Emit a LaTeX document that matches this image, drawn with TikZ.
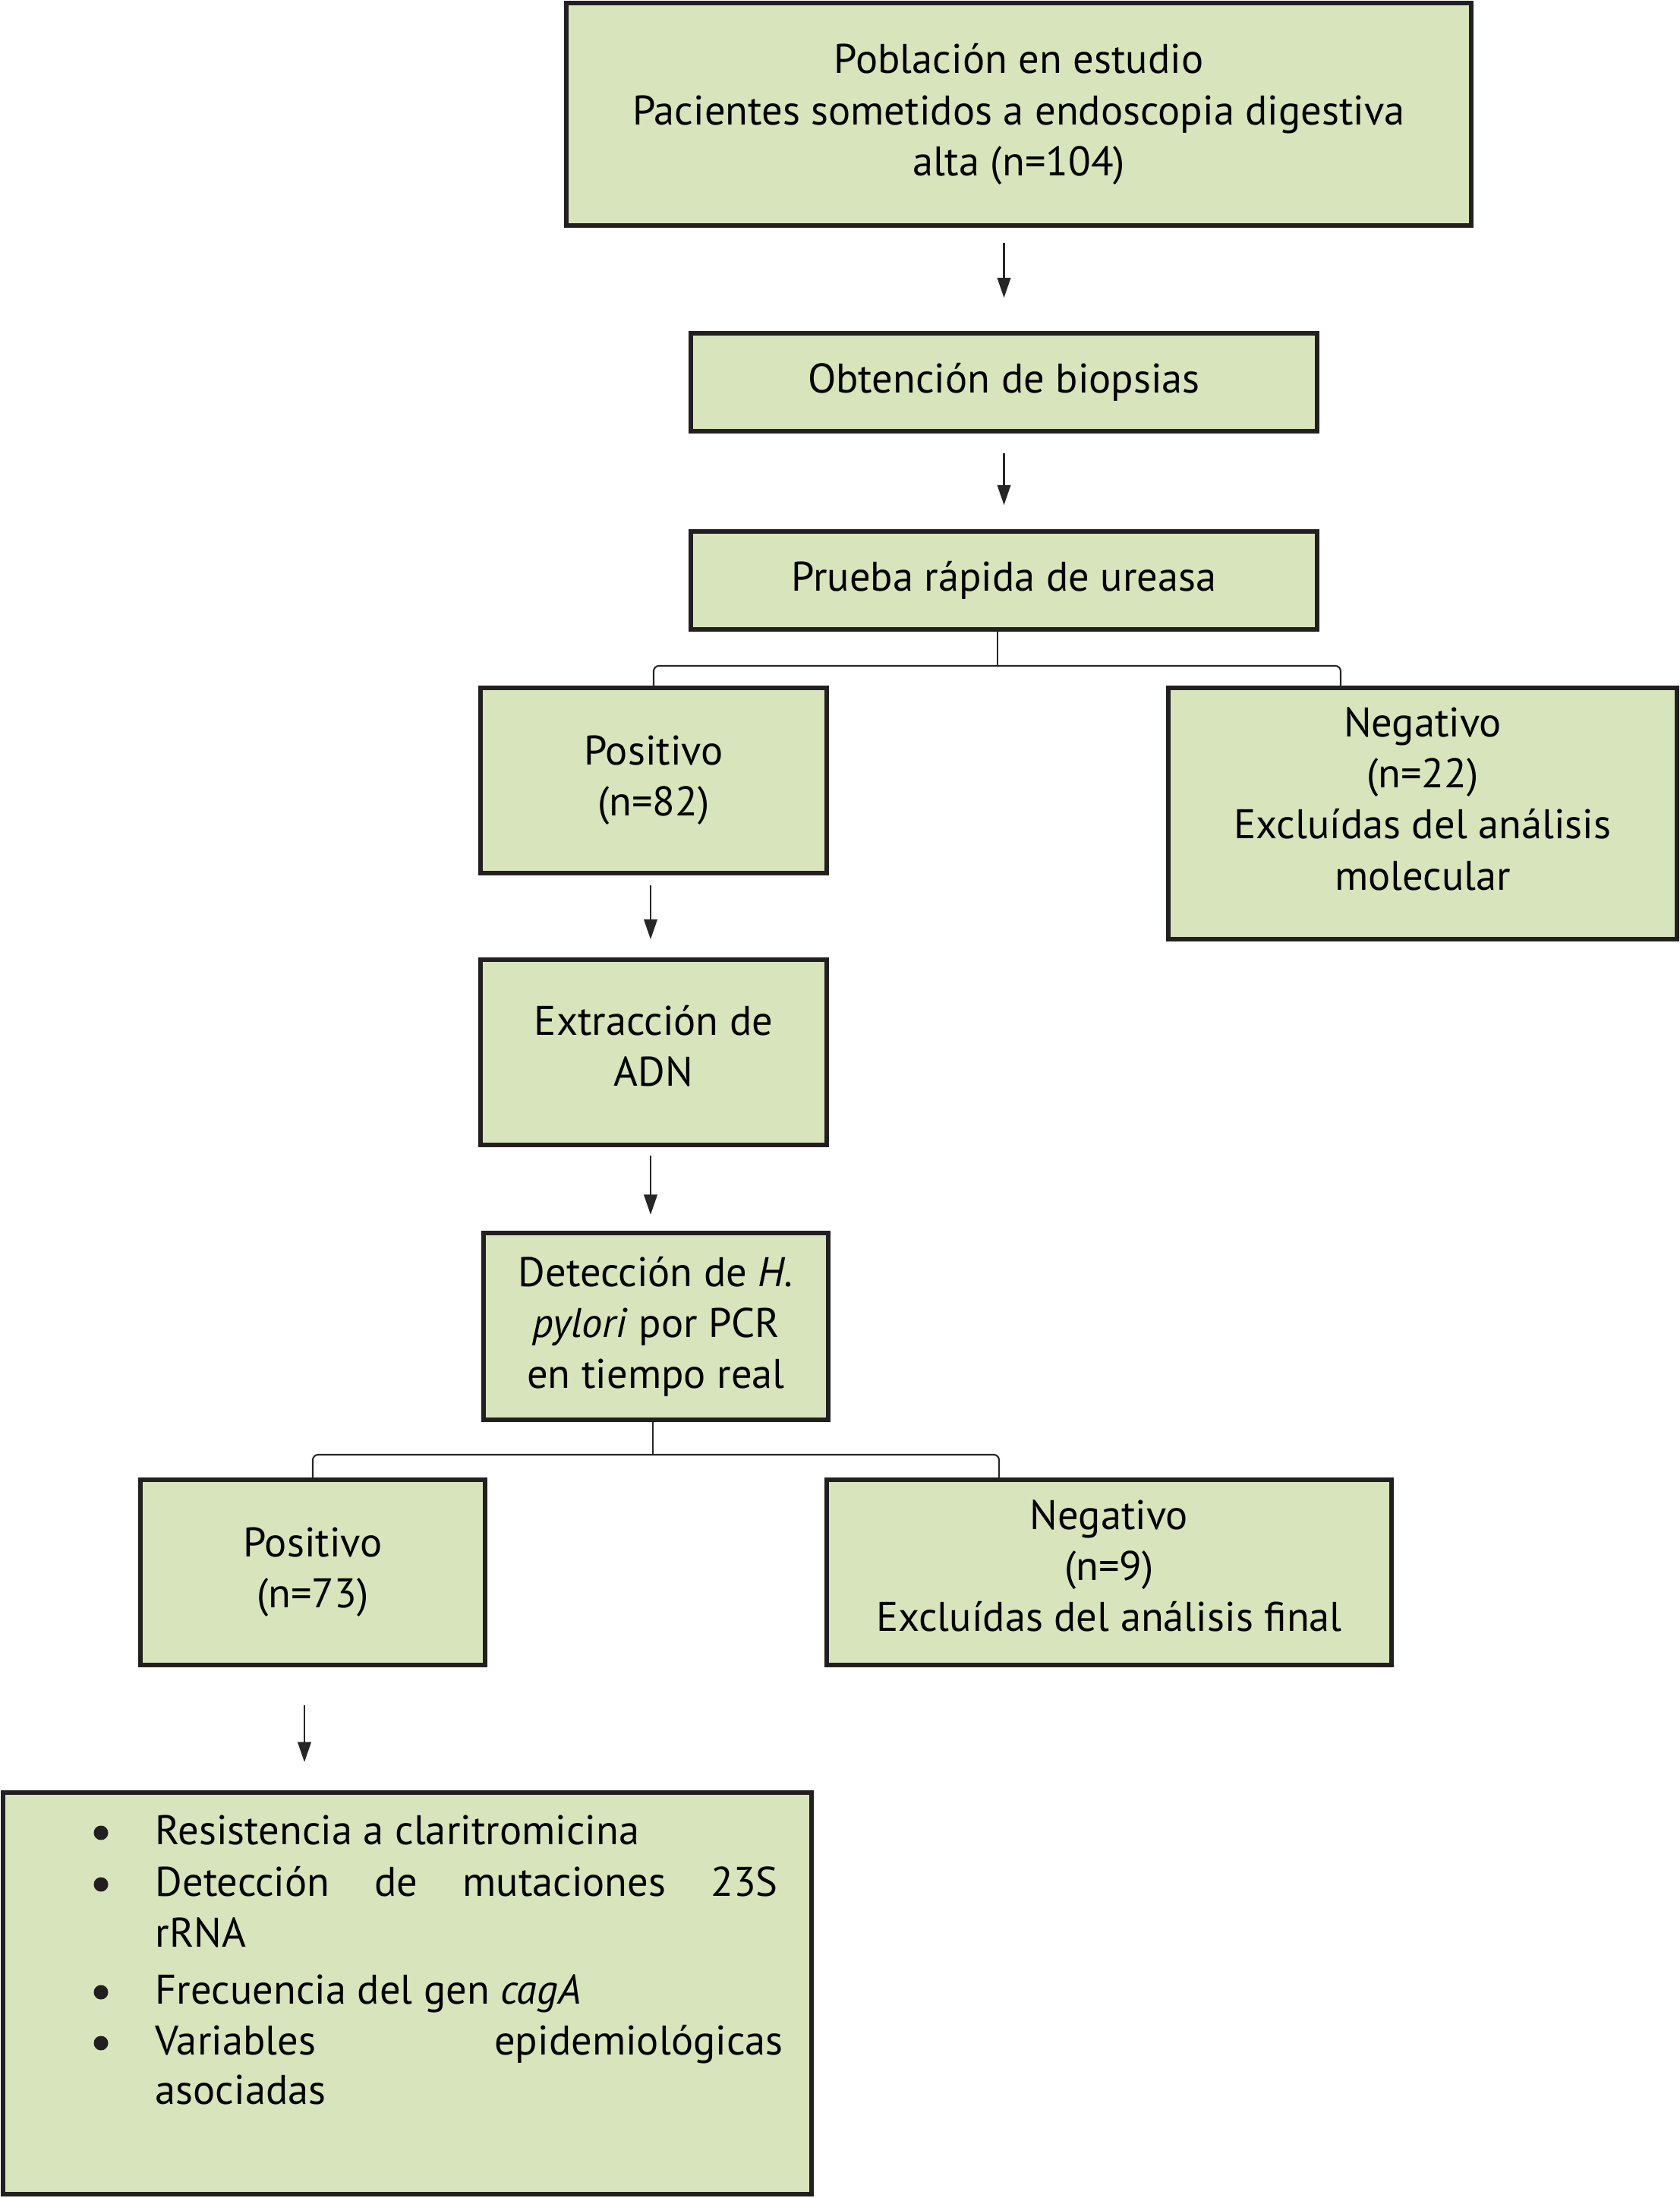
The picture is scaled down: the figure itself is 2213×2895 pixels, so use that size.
\documentclass[tikz,border=0pt]{standalone}
\usepackage{fontspec}
\setmainfont{PT Sans}
\usetikzlibrary{arrows.meta,calc}
\definecolor{boxfill}{HTML}{D8E4BC}
\definecolor{boxline}{HTML}{231F20}
\begin{document}
\begin{tikzpicture}[x=0.01cm,y=-0.01cm,
  font=\fontsize{15.5}{19.1}\selectfont,
  box/.style={draw=boxline,fill=boxfill,line width=1.6pt,align=center,inner sep=0pt},
  conn/.style={draw=black!85,line width=0.6pt},
  arr/.style={conn,-{Triangle[length=7.5pt,width=5pt]}},
  item/.style={anchor=base west,inner sep=0pt},
  dot/.style={circle,fill=boxline,inner sep=0pt,minimum size=0.19cm}]
\useasboundingbox (0,0) rectangle (2213,2895);
\node[box,minimum width=1192*0.01cm,minimum height=293*0.01cm] (b1) at (1342,150.5)
  {Población en estudio\\Pacientes sometidos a endoscopia digestiva\\alta (n=104)};
\node[box,minimum width=825*0.01cm,minimum height=129*0.01cm] (b2) at (1322.5,503.5)
  {Obtención de biopsias};
\node[box,minimum width=825*0.01cm,minimum height=129*0.01cm] (b3) at (1322.5,764.5)
  {Prueba rápida de ureasa};
\node[box,minimum width=456*0.01cm,minimum height=244*0.01cm] (p1) at (861,1028)
  {Positivo\\(n=82)};
\node[box,minimum width=670*0.01cm,minimum height=331*0.01cm] (n1) at (1874,1071.5)
  {Negativo\\(n=22)\\Excluídas del análisis\\molecular\\[-8pt]\mbox{}};
\node[box,minimum width=456*0.01cm,minimum height=244*0.01cm] (ex) at (861,1386)
  {Extracción de\\ADN\\[-14pt]\mbox{}};
\node[box,minimum width=454*0.01cm,minimum height=246*0.01cm] (de) at (864,1747)
  {Detección de \textit{H.}\\\textit{pylori} por PCR\\en tiempo real};
\node[box,minimum width=454*0.01cm,minimum height=244*0.01cm] (p2) at (412,2071)
  {Positivo\\(n=73)};
\node[box,minimum width=744*0.01cm,minimum height=244*0.01cm] (n2) at (1461,2071)
  {Negativo\\(n=9)\\Excluídas del análisis final\\[-14pt]\mbox{}};
\node[box,minimum width=1065*0.01cm,minimum height=529*0.01cm] (li) at (536.5,2625.5) {};
% list content
\node[dot] (bu1) at (133,2414) {};
\node[item] (t1) at (204,2429) {Resistencia a claritromicina};
\node[dot] (bu2) at (133,2482) {};
\node[item] (t2) at (204,2497) {\hbox to 820\dimexpr 0.01cm\relax{Detección\hfill de\hfill mutaciones\hfill 23S}};
\node[item] (t3) at (204,2564) {rRNA};
\node[dot] (bu3) at (133,2624) {};
\node[item] (t4) at (204,2639) {Frecuencia del gen \textit{cagA}};
\node[dot] (bu4) at (133,2691) {};
\node[item] (t5) at (204,2706) {\hbox to 827\dimexpr 0.01cm\relax{Variables\hfill epidemiológicas}};
\node[item] (t6) at (204,2771) {asociadas};
% arrows
\draw[arr] ($(b1.south -| b2.north)+(0,20)$) -- ($(b2.north)+(0,-44)$);
\draw[arr] ($(b2.south)+(0,26)$) -- ($(b3.north)+(0,-32)$);
\draw[arr] ($(p1.south)+(-4,13)$) -- ($(ex.north)+(-4,-24)$);
\draw[arr] ($(ex.south)+(-4,11)$) -- ($(ex.south)+(-4,89)$);
\draw[arr] ($(p2.south)+(-11,50)$) -- ($(p2.south)+(-11,125)$);
% branch 1
\coordinate (j1) at (1314,877);
\coordinate (n1top) at (1766,906);
\draw[conn] (b3.south -| j1) -- (j1);
\draw[conn,rounded corners=2pt] (p1.north) |- (j1) -| (n1top);
% branch 2
\coordinate (j2) at (860,1916);
\coordinate (n2top) at (1316,1949);
\draw[conn] (de.south -| j2) -- (j2);
\draw[conn,rounded corners=2pt] (p2.north) |- (j2) -| (n2top);
\end{tikzpicture}
\end{document}
